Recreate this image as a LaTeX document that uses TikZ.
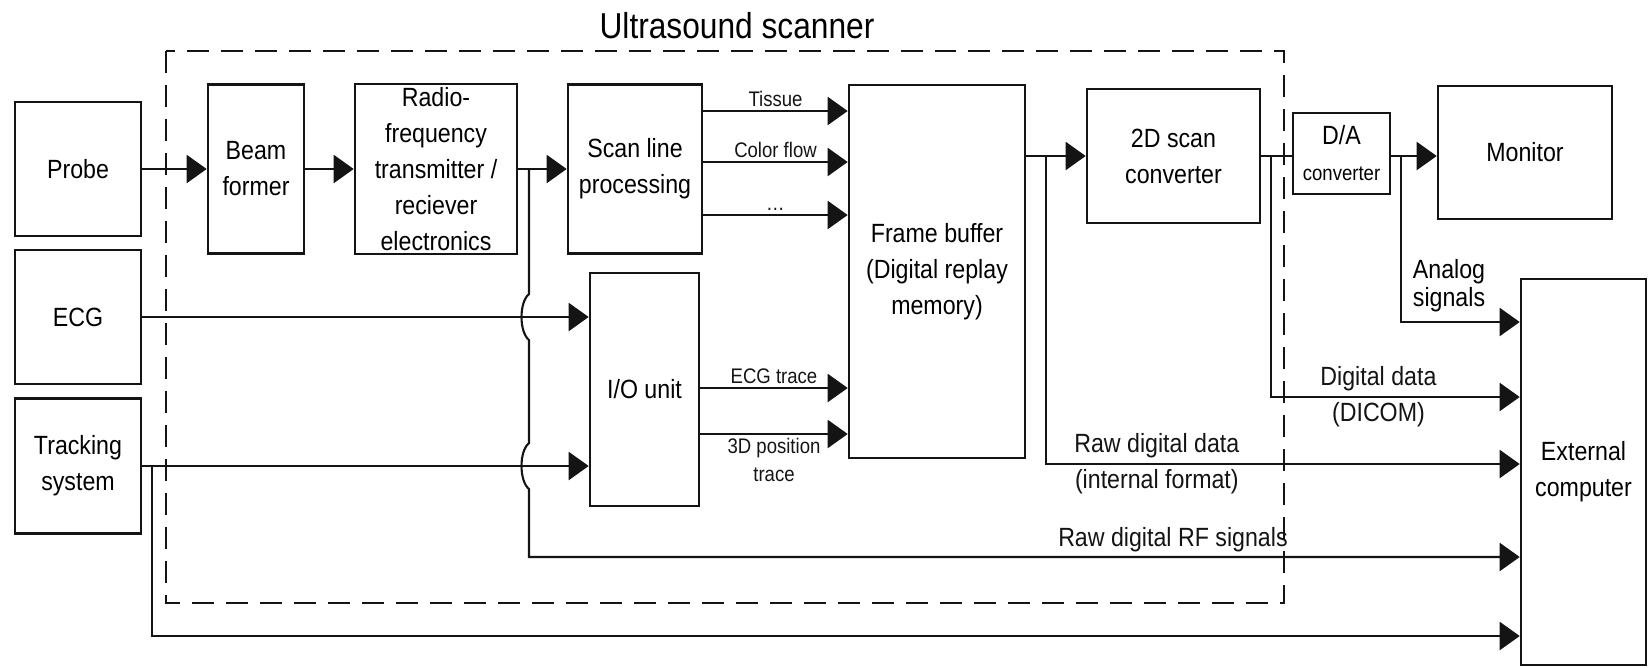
\documentclass[tikz,border=0pt]{standalone}
\usepackage{fontspec}
\setmainfont[FakeStretch=0.88]{Liberation Sans}
\usetikzlibrary{arrows.meta, positioning, calc}
\definecolor{inkblack}{RGB}{20,20,20}

\begin{document}
\begin{tikzpicture}[
    x=0.02cm, y=-0.02cm,
    unit/.style={rectangle, draw=inkblack, line width=1.5pt, align=center, inner sep=1pt, font=\fontsize{15}{20.5}\selectfont},
    arrow/.style={-{Triangle[length=0.4cm, width=0.56cm]}, line width=1.2pt, color=inkblack},
    link/.style={line width=1.2pt, color=inkblack},
    lab/.style={align=center, inner sep=2pt, font=\fontsize{12}{16}\selectfont},
    biglab/.style={align=center, inner sep=2pt, font=\fontsize{15}{20.5}\selectfont}
]
\useasboundingbox (0,0) rectangle (1648,667);
\draw[inkblack, line width=1.3pt, dash pattern=on 0.44cm off 0.24cm] (166,51) rectangle (1284,603);
\node[font=\fontsize{20.5}{24}\selectfont] (title) at (737,26) {Ultrasound scanner};
\node[unit, minimum width=2.52cm, minimum height=2.68cm] (probe) at (78,169) {Probe};
\node[unit, minimum width=2.52cm, minimum height=2.68cm] (ecg) at (78,317) {ECG};
\node[unit, minimum width=2.52cm, minimum height=2.70cm] (trk) at (78,466) {Tracking\\system};
\node[unit, minimum width=1.92cm, minimum height=3.38cm] (beam) at (256,169) {Beam\\former};
\node[unit, minimum width=3.24cm, minimum height=3.40cm] (rf) at (436,169) {Radio-\\frequency\\transmitter /\\reciever\\electronics};
\node[unit, minimum width=2.68cm, minimum height=3.38cm] (scan) at (635,169) {Scan line\\processing};
\node[unit, minimum width=2.18cm, minimum height=4.66cm] (io) at (644.5,389.5) {I/O unit};
\node[unit, minimum width=3.52cm, minimum height=7.46cm] (frame) at (937,271.5) {Frame buffer\\(Digital replay\\memory)};
\node[unit, minimum width=3.46cm, minimum height=2.68cm] (sc2d) at (1173.5,156) {2D scan\\converter};
\node[unit, minimum width=1.94cm, minimum height=1.62cm] (da) at (1341.5,153.5) {D/A\\{\fontsize{12}{14}\selectfont converter}};
\node[unit, minimum width=3.48cm, minimum height=2.66cm] (monitor) at (1525,152.5) {Monitor};
\node[unit, minimum width=2.50cm, minimum height=7.72cm] (extc) at (1583.5,472) {External\\computer};
\coordinate (rfsplit) at (529,169);
\coordinate (rfbend) at (529,557);
\coordinate (trksplit) at (152,466);
\coordinate (trkbend) at (152,636);
\coordinate (fbsplit) at (1046,156);
\coordinate (fbbend) at (1046,464);
\coordinate (scsplit) at (1271,156);
\coordinate (scbend) at (1271,397);
\coordinate (dasplit) at (1401,156);
\coordinate (dabend) at (1401,322);
\draw[arrow] (probe) -- (beam);
\draw[arrow] (beam) -- (rf);
\draw[arrow] (rf) -- (scan);
\draw[arrow] (rfsplit) -- (529,294) .. controls (519,302) and (519,332) .. (529,340) -- (529,443) .. controls (519,451) and (519,481) .. (529,489) -- (rfbend) -- node[biglab, above, pos=0.65] (rflab) {Raw digital RF signals} (extc.west |- rfbend);
\draw[arrow] (scan.east |- 0,111) -- node[lab, above] (tissue) {Tissue} (frame.west |- 0,111);
\draw[arrow] (scan.east |- 0,162) -- node[lab, above] (colflow) {Color flow} (frame.west |- 0,162);
\draw[arrow] (scan.east |- 0,215) -- node[lab, above] (more) {\dots} (frame.west |- 0,215);
\draw[arrow] (ecg) -- (io.west |- ecg);
\draw[arrow] (trk) -- (io.west |- trk);
\draw[arrow] (trksplit) -- (trkbend) -- (extc.west |- trkbend);
\draw[arrow] (io.east |- 0,388) -- node[lab, above] (ecgtr) {ECG trace} (frame.west |- 0,388);
\draw[arrow] (io.east |- 0,434) -- node[lab, below] (postr) {3D position\\trace} (frame.west |- 0,434);
\draw[arrow] (frame.east |- sc2d) -- (sc2d);
\draw[arrow] (fbsplit) -- (fbbend) -- node[biglab, pos=0.234] (rawlab) {Raw digital data\\(internal format)} (extc.west |- fbbend);
\draw[link] (sc2d.east) -- (da.west |- sc2d.east);
\draw[arrow] (scsplit) -- (scbend) -- node[biglab, pos=0.432] (diglab) {Digital data\\(DICOM)} (extc.west |- scbend);
\draw[arrow] (da.east |- sc2d.east) -- (monitor.west |- sc2d.east);
\draw[arrow] (dasplit) -- (dabend) -- (extc.west |- dabend);
\node[biglab, font=\fontsize{15}{16}\selectfont] (anlab) at (1449,286) {Analog\\signals};
\end{tikzpicture}
\end{document}
